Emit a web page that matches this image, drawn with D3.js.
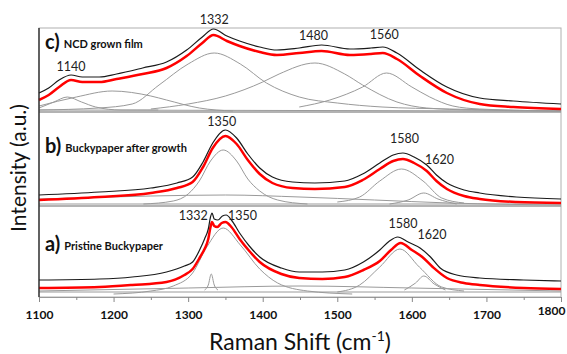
<!DOCTYPE html>
<html>
<head>
<meta charset="utf-8">
<script src="https://cdn.jsdelivr.net/npm/d3@7"></script>
<style>
	body { margin: 0; background: #fff; }
	text { font-family: Lato, "Open Sans", sans-serif; }
</style>
</head>
<body>
<div id="chart"></div>
<script>
// Raman spectra, three stacked panels (top to bottom: c, b, a)
var shiftTicks = [1100, 1200, 1300, 1400, 1500, 1600, 1700, 1800];
var minorTicks = [1150, 1250, 1350, 1450, 1550, 1650, 1750];
var panelKeys = ["c)", "b)", "a)"];
var panelTitles = ["NCD grown film", "Buckypaper after growth", "Pristine Buckypaper"];

// panel c - NCD grown film  [shift, intensity]
var measuredC = [[1100,19],[1113,24],[1127,32],[1143,37],[1158,35],[1181,35],[1204,38],[1239,44],[1271,50],[1298,62],[1319,75],[1334,83],[1352,76],[1369,71],[1396,65],[1419,62],[1449,64],[1479,67],[1517,63],[1545,64],[1561,65],[1580,59],[1611,42],[1647,25],[1691,14],[1736,11],[1800,8]];
var fitC = [[1100,12],[1113,17],[1127,25],[1143,32],[1158,30],[1181,30],[1204,33],[1239,38],[1271,44],[1298,56],[1319,69],[1334,77],[1352,71],[1369,66],[1396,60],[1419,57],[1449,59],[1479,61],[1517,57],[1545,58],[1561,59],[1580,53],[1611,36],[1647,19],[1691,8],[1736,5],[1800,3]];
var componentsC = [
	[[1100,4],[1120,10],[1138,15],[1157,10],[1176,5],[1210,2],[1260,2]],
	[[1100,6],[1150,15],[1198,21],[1250,16],[1271,12],[1315,4],[1360,1]],
	[[1100,2],[1180,4],[1225,8],[1261,27],[1300,48],[1335,59],[1370,48],[1405,29],[1449,15],[1500,9],[1560,5],[1650,3],[1800,1]],
	[[1250,3],[1300,8],[1350,16],[1400,30],[1422,38],[1470,49],[1510,38],[1534,27],[1580,10],[1620,4],[1680,2],[1800,1]],
	[[1449,5],[1490,12],[1534,25],[1566,39],[1600,25],[1624,15],[1655,6],[1691,3],[1800,1]],
	[[1100,2],[1800,1]]
];
var peaksC = [["1140",1143,45],["1332",1335,92],["1480",1468,76],["1560",1563,77]];

// panel b - Buckypaper after growth
var measuredB = [[1100,11],[1181,14],[1250,18],[1285,23],[1306,29],[1320,44],[1333,63],[1350,76],[1365,68],[1380,52],[1396,38],[1413,29],[1440,24],[1470,23],[1510,25],[1534,32],[1557,43],[1575,51],[1588,53],[1603,49],[1620,41],[1633,31],[1647,23],[1670,16],[1691,13],[1740,9],[1800,7]];
var fitB = [[1100,6],[1181,9],[1250,13],[1285,18],[1306,24],[1320,39],[1333,58],[1350,70],[1365,62],[1380,46],[1396,32],[1413,23],[1440,18],[1470,17],[1510,19],[1534,26],[1557,37],[1575,45],[1588,47],[1603,43],[1620,35],[1633,25],[1647,17],[1670,10],[1691,7],[1740,4],[1800,3]];
var componentsB = [
	[[1240,2],[1280,5],[1300,12],[1315,25],[1330,45],[1347,56],[1365,45],[1380,27],[1396,15],[1420,6],[1460,2]],
	[[1100,7],[1250,10],[1350,11],[1450,9],[1550,6],[1650,3],[1800,1]],
	[[1500,4],[1530,9],[1557,25],[1586,37],[1615,25],[1640,8],[1670,3]],
	[[1570,2],[1595,6],[1616,13],[1635,7],[1660,2]],
	[[1100,2],[1800,2]]
];
var peaksB = [["1350",1345,84],["1580",1590,67],["1620",1637,46]];

// panel a - Pristine Buckypaper
var measuredA = [[1100,17],[1181,18],[1225,20],[1271,25],[1295,31],[1306,35],[1316,48],[1322,58],[1327,68],[1330,80],[1332,84],[1335,78],[1340,77],[1346,81],[1351,82],[1358,77],[1369,64],[1382,51],[1396,40],[1425,29],[1449,25],[1480,25],[1510,27],[1535,35],[1557,47],[1570,56],[1581,60],[1595,55],[1611,49],[1625,40],[1638,29],[1660,22],[1691,19],[1750,17],[1800,16]];
var fitA = [[1100,9],[1181,10],[1225,12],[1271,15],[1295,22],[1306,28],[1316,40],[1322,48],[1327,58],[1330,70],[1332,75],[1335,71],[1339,70],[1345,74],[1350,75],[1358,70],[1369,58],[1382,46],[1396,35],[1425,23],[1449,19],[1480,18],[1510,20],[1535,27],[1557,36],[1572,47],[1585,54],[1600,47],[1614,40],[1628,30],[1647,19],[1670,14],[1691,12],[1750,9],[1800,8]];
var componentsA = [
	[[1200,3],[1250,6],[1280,11],[1306,24],[1325,50],[1347,69],[1370,52],[1396,28],[1420,14],[1460,6],[1520,3]],
	[[1322,7],[1327,12],[1331,23],[1335,12],[1340,7]],
	[[1500,5],[1530,12],[1557,30],[1584,48],[1610,30],[1640,10],[1670,6]],
	[[1590,7],[1605,14],[1616,21],[1630,13],[1645,7]],
	[[1100,6],[1300,9],[1450,11],[1600,9],[1800,6]],
	[[1100,5],[1800,5]]
];
var peaksA = [["1332",1307,81],["1350",1373,81],["1580",1588,73],["1620",1627,62]];

(function() {
	var width = 567,
		height = 354,
		left = 39, right = 561, top = 28, bottom = 297;

	// pixel extent of each panel, top to bottom
	var panels = [
		{ y0: 28,  y1: 112, keyDy: 15, measured: measuredC, fit: fitC, comps: componentsC, peaks: peaksC },
		{ y0: 112, y1: 206, keyDy: 35, measured: measuredB, fit: fitB, comps: componentsB, peaks: peaksB },
		{ y0: 206, y1: 297, keyDy: 39, measured: measuredA, fit: fitA, comps: componentsA, peaks: peaksA }
	];

	var svg = d3.select("#chart")
				.append("svg")
				.attr("width", width)
				.attr("height", height);

	var xScale = d3.scaleLinear()
					.domain([1100, 1800])
					.range([left, right]);

	// frame
	svg.append("rect")
		.attr("x", left)
		.attr("y", top)
		.attr("width", right - left)
		.attr("height", bottom - top)
		.attr("fill", "none")
		.attr("stroke", "#b0b0b0")
		.attr("stroke-width", 1);

	panels.forEach(function(p, i) {
		var yScale = d3.scaleLinear()
						.domain([0, p.y1 - p.y0])
						.range([p.y1, p.y0]);

		var line = d3.line()
					.x(function(d) { return xScale(d[0]); })
					.y(function(d) { return yScale(d[1]); })
					.curve(d3.curveMonotoneX);

		var g = svg.append("g").attr("class", "panel");

		g.selectAll(".comp")
			.data(p.comps)
			.enter()
			.append("path")
			.attr("class", "comp")
			.attr("d", line)
			.attr("fill", "none")
			.attr("stroke", "#9a9a9a")
			.attr("stroke-width", 1);

		g.append("path")
			.attr("d", line(p.fit))
			.attr("fill", "none")
			.attr("stroke", "#ff0000")
			.attr("stroke-width", 2.5);

		g.append("path")
			.attr("d", line(p.measured))
			.attr("fill", "none")
			.attr("stroke", "#1a1a1a")
			.attr("stroke-width", 1.2);

		g.selectAll(".peak-label")
			.data(p.peaks)
			.enter()
			.append("text")
			.attr("class", "peak-label")
			.attr("text-anchor", "middle")
			.attr("x", function(d) { return xScale(d[1]); })
			.attr("y", function(d) { return yScale(d[2]); })
			.attr("dy", "0.35em")
			.attr("font-size", 12.5)
			.attr("fill", "#222")
			.text(function(d) { return d[0]; });

		var key = g.append("text")
			.attr("x", left + 6)
			.attr("y", p.y0 + p.keyDy)
			.attr("dy", "0.35em")
			.attr("font-weight", "bold")
			.attr("fill", "#111");
		key.append("tspan")
			.attr("font-size", 20)
			.text(panelKeys[i]);
		key.append("tspan")
			.attr("font-size", 11)
			.attr("dx", 4)
			.attr("dy", "-0.1em")
			.text(panelTitles[i]);

		if (i > 0) {
			svg.append("line")
				.attr("x1", left)
				.attr("x2", right)
				.attr("y1", p.y0)
				.attr("y2", p.y0)
				.attr("stroke", "#9a9a9a")
				.attr("stroke-width", 1.5);
		}
	});

	// left axis line
	svg.append("line")
		.attr("x1", left)
		.attr("x2", left)
		.attr("y1", top)
		.attr("y2", bottom)
		.attr("stroke", "#222")
		.attr("stroke-width", 1.3);

	// x axis
	var xAxis = d3.axisBottom(xScale)
					.tickValues(shiftTicks)
					.tickFormat(d3.format("d"))
					.tickSize(5)
					.tickPadding(8);

	var axisG = svg.append("g")
		.attr("transform", "translate(0," + bottom + ")")
		.call(xAxis);
	axisG.select(".domain").attr("stroke", "#999");
	axisG.selectAll(".tick line").attr("stroke", "#888");
	axisG.selectAll(".tick text")
		.attr("font-family", "Lato, 'Open Sans', sans-serif")
		.attr("font-size", 12)
		.attr("font-weight", "bold")
		.attr("fill", "#111");
	// last label sits inside the page edge, a little raised, as in the original
	axisG.selectAll(".tick text")
		.filter(function(d) { return d === 1800; })
		.attr("text-anchor", "end")
		.attr("x", 4)
		.attr("dy", "0.45em");

	var minorG = svg.append("g")
		.attr("transform", "translate(0," + bottom + ")")
		.call(d3.axisBottom(xScale).tickValues(minorTicks).tickSize(3).tickFormat(""));
	minorG.select(".domain").remove();
	minorG.selectAll(".tick line").attr("stroke", "#888");

	// axis titles
	var xTitle = svg.append("text")
		.attr("x", 300)
		.attr("y", 350)
		.attr("text-anchor", "middle")
		.attr("font-size", 23)
		.attr("fill", "#111");
	xTitle.append("tspan").text("Raman Shift (cm");
	xTitle.append("tspan").attr("font-size", 14).attr("dy", -9).text("-1");
	xTitle.append("tspan").attr("dy", 9).text(")");

	svg.append("text")
		.attr("transform", "translate(26,168) rotate(-90)")
		.attr("text-anchor", "middle")
		.attr("font-size", 21)
		.attr("fill", "#111")
		.text("Intensity (a.u.)");
})();
</script>
</body>
</html>
